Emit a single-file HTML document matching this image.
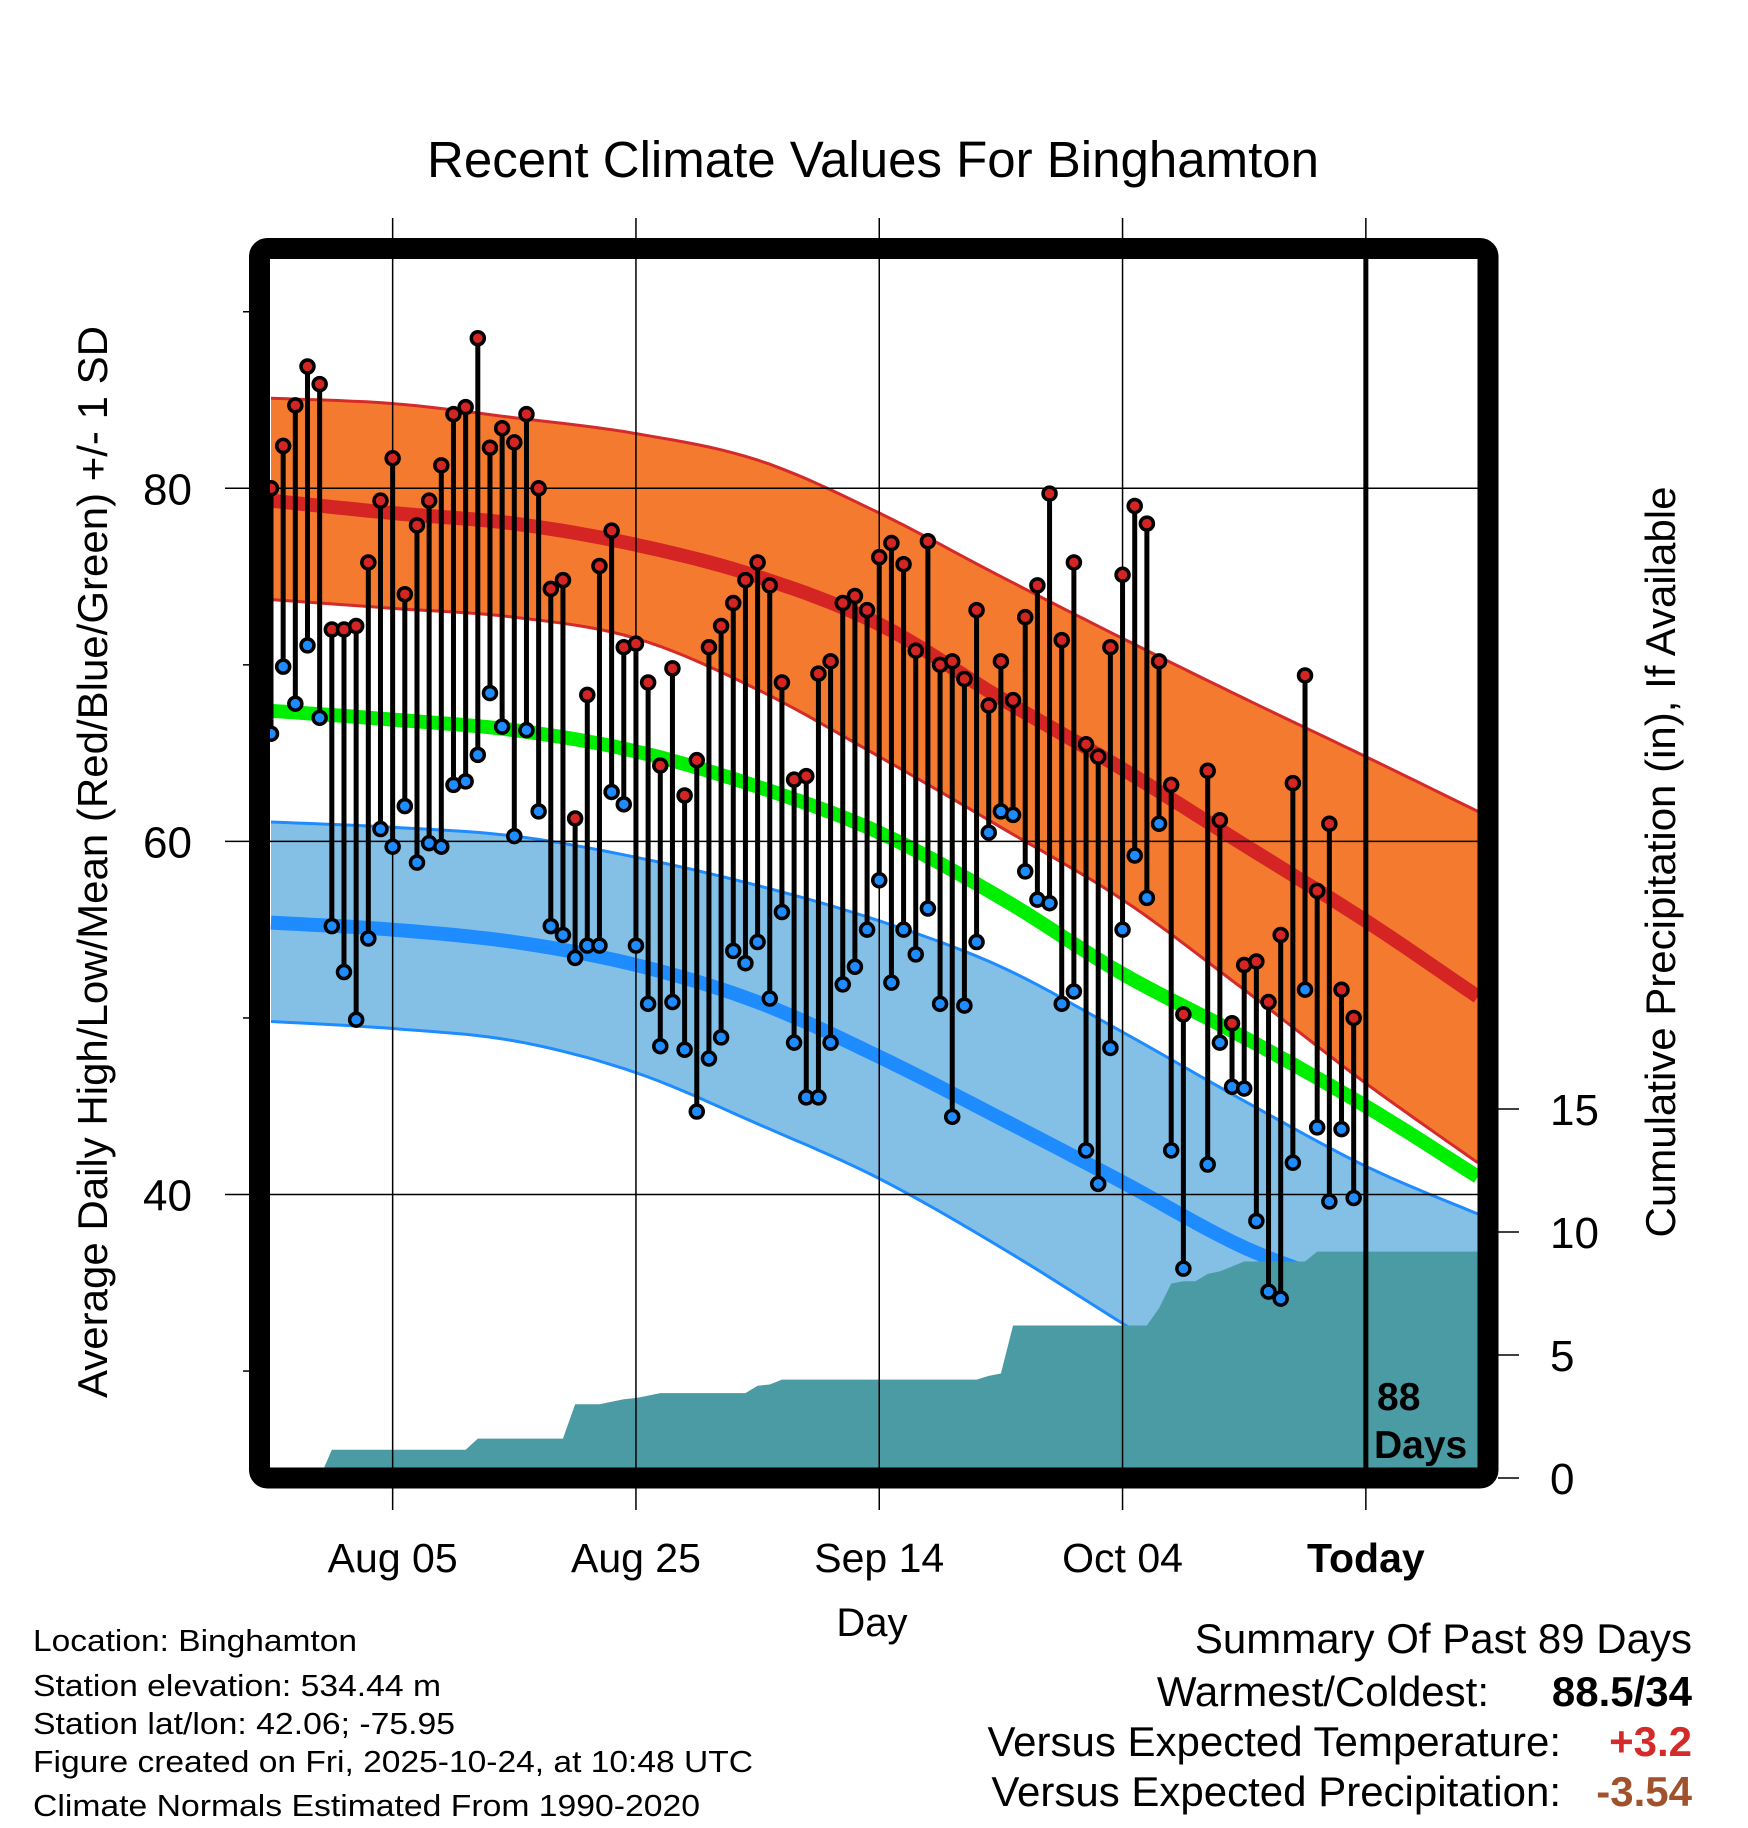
<!DOCTYPE html>
<html><head><meta charset="utf-8"><style>
html,body{margin:0;padding:0;background:#fff;}
svg{display:block;font-family:"Liberation Sans",sans-serif;}
</style></head><body>
<svg id="chart" width="1748" height="1828" viewBox="0 0 1748 1828" xmlns="http://www.w3.org/2000/svg">
<defs><clipPath id="pc"><rect x="270" y="260" width="1208" height="1208"/></clipPath></defs>
<g id="plot" clip-path="url(#pc)"></g>
<g id="over"></g>
<text x="873" y="177" font-size="51" text-anchor="middle">Recent Climate Values For Binghamton</text>
<text transform="translate(107,862) rotate(-90)" font-size="42" text-anchor="middle">Average Daily High/Low/Mean (Red/Blue/Green) +/- 1 SD</text>
<text transform="translate(1675,862) rotate(-90)" font-size="42" text-anchor="middle">Cumulative Precipitation (in), If Available</text>
<text x="872" y="1636" font-size="40" text-anchor="middle">Day</text>
<g font-size="31">
<text x="33" y="1651" textLength="324" lengthAdjust="spacingAndGlyphs">Location: Binghamton</text>
<text x="33" y="1696" textLength="408" lengthAdjust="spacingAndGlyphs">Station elevation: 534.44 m</text>
<text x="33" y="1734" textLength="422" lengthAdjust="spacingAndGlyphs">Station lat/lon: 42.06; -75.95</text>
<text x="33" y="1772" textLength="720" lengthAdjust="spacingAndGlyphs">Figure created on Fri, 2025-10-24, at 10:48 UTC</text>
<text x="33" y="1816" textLength="667" lengthAdjust="spacingAndGlyphs">Climate Normals Estimated From 1990-2020</text>
</g>
<g font-size="42" text-anchor="end">
<text x="1692" y="1653">Summary Of Past 89 Days</text>
<text x="1489" y="1706">Warmest/Coldest:</text>
<text x="1692" y="1706" font-weight="bold">88.5/34</text>
<text x="1561" y="1756">Versus Expected Temperature:</text>
<text x="1692" y="1756" font-weight="bold" fill="#d42a2a">+3.2</text>
<text x="1561" y="1806">Versus Expected Precipitation:</text>
<text x="1692" y="1806" font-weight="bold" fill="#a0522d">-3.54</text>
</g>
</svg>
<script>
// ---- data ----
const normDays   = [0,10,20,30,40,50,60,70,80,90,99.2];
const highUpper  = [85.1,84.8,84.0,83.1,81.6,78.6,75.0,71.5,68.1,64.8,61.7];
const highMean   = [79.3,78.6,78.0,76.8,75.0,72.3,68.1,64.1,59.8,55.5,51.2];
const highLower  = [73.7,73.2,72.7,71.5,68.6,64.8,60.8,56.7,51.6,46.3,41.8];
const meanNorm   = [67.4,66.9,66.3,65.1,63.1,60.5,56.8,52.5,48.9,45.0,41.0];
const lowUpper   = [61.1,60.8,60.3,59.1,57.5,55.5,52.9,49.2,45.3,41.6,38.9];
const lowMean    = [55.4,55.0,54.3,53.0,50.9,47.8,44.3,40.7,37.0,34.4,31.7];
const lowLower   = [49.8,49.4,48.7,46.9,44.0,40.9,37.0,32.7,28.4,24.5,21.2];
const highs = [80.0,82.4,84.7,86.9,85.9,72.0,72.0,72.2,75.8,79.3,81.7,74.0,77.9,79.3,81.3,84.2,84.6,88.5,82.3,83.4,82.6,84.2,80.0,74.3,74.8,61.3,68.3,75.6,77.6,71.0,71.2,69.0,64.3,69.8,62.6,64.6,71.0,72.2,73.5,74.8,75.8,74.5,69.0,63.5,63.7,69.5,70.2,73.5,73.9,73.1,76.1,76.9,75.7,70.8,77.0,70.0,70.2,69.2,73.1,67.7,70.2,68.0,72.7,74.5,79.7,71.4,75.8,65.5,64.8,71.0,75.1,79.0,78.0,70.2,63.2,50.2,null,64.0,61.2,49.7,53.0,53.2,50.9,54.7,63.3,69.4,57.2,61.0,51.6,50.0];
const lows  = [66.1,69.9,67.8,71.1,67.0,55.2,52.6,49.9,54.5,60.7,59.7,62.0,58.8,59.9,59.7,63.2,63.4,64.9,68.4,66.5,60.3,66.3,61.7,55.2,54.7,53.4,54.1,54.1,62.8,62.1,54.1,50.8,48.4,50.9,48.2,44.7,47.7,48.9,53.8,53.1,54.3,51.1,56.0,48.6,45.5,45.5,48.6,51.9,52.9,55.0,57.8,52.0,55.0,53.6,56.2,50.8,44.4,50.7,54.3,60.5,61.7,61.5,58.3,56.7,56.5,50.8,51.5,42.5,40.6,48.3,55.0,59.2,56.8,61.0,42.5,35.8,null,41.7,48.6,46.1,46.0,38.5,34.5,34.1,41.8,51.6,43.8,39.6,43.7,39.8];
const precip = [0,0,0,0,0,1.15,1.15,1.15,1.15,1.15,1.15,1.15,1.15,1.15,1.15,1.15,1.15,1.6,1.6,1.6,1.6,1.6,1.6,1.6,1.6,3.0,3.0,3.0,3.1,3.2,3.25,3.35,3.45,3.45,3.45,3.45,3.45,3.45,3.45,3.45,3.75,3.8,4.0,4.0,4.0,4.0,4.0,4.0,4.0,4.0,4.0,4.0,4.0,4.0,4.0,4.0,4.0,4.0,4.0,4.15,4.25,6.2,6.2,6.2,6.2,6.2,6.2,6.2,6.2,6.2,6.2,6.2,6.2,6.9,7.9,8.0,8.0,8.3,8.4,8.6,8.8,8.8,8.8,8.8,8.8,8.8,9.2,9.2,9.2,9.2];
const xTickDays = [10,30,50,70,90];
const xTickLabels = ["Aug 05","Aug 25","Sep 14","Oct 04","Today"];
const yTicks = [80,60,40];
const yMinor = [90,70,50,30];
const pTicks = [0,5,10,15];
const daysCount = "88";

// ---- axes ----
const X = d => 271 + 12.165*d;
const Y = v => 488.3 - (v-80)*17.655;
const P = p => 1478 - p*24.6;
const NS = "http://www.w3.org/2000/svg";
const plot = document.getElementById('plot');
const over = document.getElementById('over');
function mk(tag, attrs, parent){ const e=document.createElementNS(NS,tag); for(const k in attrs) e.setAttribute(k,attrs[k]); parent.appendChild(e); return e; }

// smooth (Catmull-Rom) sampling of a normal series
function smoothPts(arr){
  const pts=normDays.map((t,i)=>[X(t),Y(arr[i])]);
  const out=[];
  for(let i=0;i<pts.length-1;i++){
    const p0=pts[Math.max(0,i-1)],p1=pts[i],p2=pts[i+1],p3=pts[Math.min(pts.length-1,i+2)];
    for(let s=0;s<10;s++){
      const t=s/10,t2=t*t,t3=t2*t;
      const f=k=>0.5*((2*p1[k])+(-p0[k]+p2[k])*t+(2*p0[k]-5*p1[k]+4*p2[k]-p3[k])*t2+(-p0[k]+3*p1[k]-3*p2[k]+p3[k])*t3);
      out.push([f(0),f(1)]);
    }
  }
  out.push(pts[pts.length-1]);
  return out;
}
function band(up, lo, fill, stroke, name){
  const a=smoothPts(up), b=smoothPts(lo).reverse();
  const d='M'+a.concat(b).map(p=>p[0].toFixed(1)+','+p[1].toFixed(1)).join(' L')+' Z';
  const e=mk('path',{d:d,fill:fill,stroke:'none'},plot);
  
  
  [up,lo].forEach(arr=>{
    const l=mk('polyline',{points:smoothPts(arr).map(p=>p[0].toFixed(1)+','+p[1].toFixed(1)).join(' '),fill:'none',stroke:stroke,'stroke-width':3},plot);
    
    
  });
}
function line(arr, color, w, name){
  const l=mk('polyline',{points:smoothPts(arr).map(p=>p[0].toFixed(1)+','+p[1].toFixed(1)).join(' '),fill:'none',stroke:color,'stroke-width':w},plot);
  
  
}
band(highUpper, highLower, '#f47a30', '#d42a2a', 'high-sd-band');
line(highMean, '#d42424', 14, 'normal-high-line');
band(lowUpper, lowLower, '#84c0e6', '#1e8cff', 'low-sd-band');
line(lowMean, '#1e8cff', 14, 'normal-low-line');
line(meanNorm, '#00ee00', 14, 'normal-mean-line');

// precip area
let pd='M'+X(0)+','+P(0);
precip.forEach((p,i)=>{ pd+=' L'+X(i)+','+P(p); });
pd+=' L'+X(100)+','+P(precip[precip.length-1])+' L'+X(100)+','+P(-1)+' L'+X(0)+','+P(-1)+' Z';
const pa=mk('path',{d:pd,fill:'#4a9ba4'},plot);



// grid
yTicks.forEach(v=>{
  const g=mk('line',{x1:225,x2:1478,y1:Y(v),y2:Y(v),stroke:'#000','stroke-width':1.5},over);
  
  
  const t=mk('text',{x:192,y:Y(v)+16,'font-size':44,'text-anchor':'end'},over);
  t.textContent=v;
  
  
});
yMinor.forEach(v=>{
  const g=mk('line',{x1:243,x2:255,y1:Y(v),y2:Y(v),stroke:'#000','stroke-width':1.5},over);
  
  
});
xTickDays.forEach((d,i)=>{
  const isToday = i===xTickDays.length-1;
  const g=mk('line',{x1:X(d),x2:X(d),y1:218,y2:1510,stroke:'#000','stroke-width':1.5},over);
  
  
  const t=mk('text',{x:X(d),y:1572,'font-size':41,'text-anchor':'middle','font-weight':isToday?'bold':'normal'},over);
  t.textContent=xTickLabels[i];
  
  
});
pTicks.forEach(p=>{
  const g=mk('line',{x1:1498,x2:1519,y1:P(p),y2:P(p),stroke:'#000','stroke-width':1.5},over);
  
  
  const t=mk('text',{x:1550,y:P(p)+16,'font-size':44},over);
  t.textContent=p;
  
  
});

// today line
const tl=mk('line',{x1:X(90),x2:X(90),y1:255,y2:1470,stroke:'#000','stroke-width':5},over);



// daily stems and points
const pts=mk('g',{},over);


highs.forEach((h,i)=>{
  const l=lows[i];
  if(h==null||l==null) return;
  const s=mk('line',{x1:X(i),x2:X(i),y1:Y(h),y2:Y(l),stroke:'#000','stroke-width':5},pts);
  
  
});
highs.forEach((h,i)=>{
  const l=lows[i];
  if(h==null||l==null) return;
  const ch=mk('circle',{cx:X(i),cy:Y(h),r:6.5,fill:'#d42424',stroke:'#000','stroke-width':3.5},pts);
  
  
  const cl=mk('circle',{cx:X(i),cy:Y(l),r:6.5,fill:'#1e8cff',stroke:'#000','stroke-width':3.5},pts);
  
  
});

// frame
const fr=mk('rect',{x:259.5,y:248.5,width:1228.5,height:1229.5,rx:8,fill:'none',stroke:'#000','stroke-width':21},over);



// days label
const d1=mk('text',{x:1377,y:1410,'font-size':39,'font-weight':'bold'},over);
d1.textContent=daysCount;


const d2=mk('text',{x:1374,y:1458,'font-size':39,'font-weight':'bold'},over);
d2.textContent='Days';


</script>
</body></html>
